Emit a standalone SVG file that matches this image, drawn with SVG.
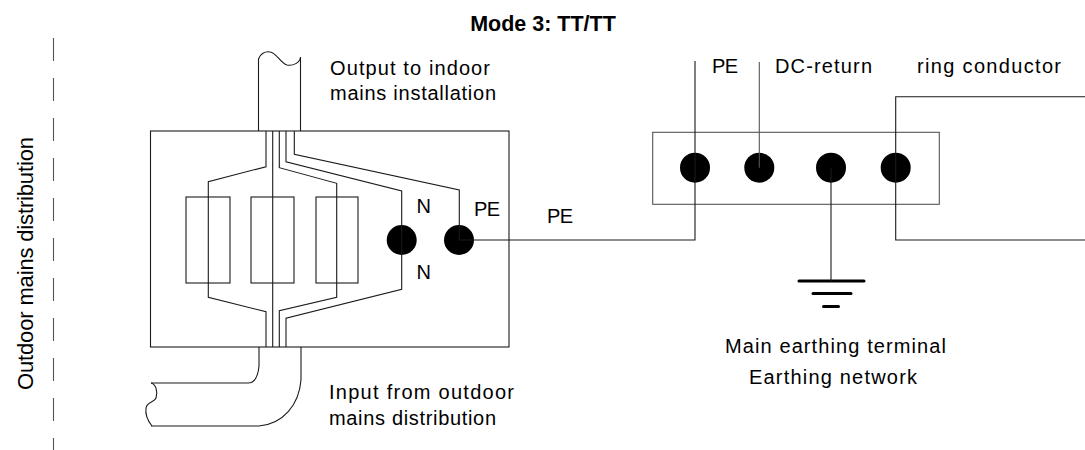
<svg xmlns="http://www.w3.org/2000/svg" width="1085" height="450" viewBox="0 0 1085 450">
<style>
  .ln{fill:none;stroke:#1a1a1a;stroke-width:1.1}
  .gr{fill:none;stroke:#555;stroke-width:1.1}
  .term{fill:#000;stroke:none}
  .t{font-family:"Liberation Sans",Arial,sans-serif;font-size:20px;fill:#000}
  .title{font-family:"Liberation Sans",Arial,sans-serif;font-size:21.5px;font-weight:bold;fill:#000}
  .earth{stroke:#000;stroke-width:3;stroke-linecap:round}
</style>
<rect width="1085" height="450" fill="#fff"/>

<g id="title">
  <text class="title" x="543" y="30.5" text-anchor="middle">Mode 3: TT/TT</text>
</g>

<g id="outdoor-boundary">
  <line class="gr" x1="53.5" y1="38" x2="53.5" y2="450" stroke-dasharray="23 17"/>
  <text class="t" style="font-size:22px" transform="translate(33,263.5) rotate(-90)" text-anchor="middle" textLength="253">Outdoor mains distribution</text>
</g>

<g id="cable-out">
  <path class="ln" d="M258.5,131 L258.5,59 C260,54 265,51 270,52 C277,53 280,63 287,65 C293,66 300,63 300.5,57 L300.5,131"/>
</g>

<g id="cable-in">
  <path class="ln" d="M259,347 L259,366 C258,377 254,383 248,383 L151,383"/>
  <path class="ln" d="M301,347 L301,380 C299,405 283,424 259,426 L151,426"/>
  <path class="ln" d="M151,383 C156,384 158,392 156,398 C155,402 147,402 146,408 C145,415 148,421 152,426"/>
</g>

<g id="distribution-box">
  <rect class="ln" x="150.5" y="131" width="358.5" height="216"/>
  <g id="fuses">
    <rect class="ln" x="186" y="197" width="44" height="86"/>
    <rect class="ln" x="251" y="197" width="43" height="86"/>
    <rect class="ln" x="316" y="197" width="42" height="86"/>
  </g>
  <circle id="term-N" class="term" cx="401.7" cy="240" r="15"/>
  <circle id="term-PE" class="term" cx="459" cy="240" r="15"/>
</g>

<g id="terminal-block">
  <rect class="gr" x="652.7" y="132.3" width="286.6" height="72"/>
  <circle id="mt-PE" class="term" cx="695" cy="167.7" r="15"/>
  <circle id="mt-DC" class="term" cx="759.3" cy="167.7" r="15"/>
  <circle id="mt-E" class="term" cx="831" cy="167.7" r="15"/>
  <circle id="mt-RING" class="term" cx="895.7" cy="167.7" r="15"/>
</g>

<g id="earth">
  <line class="earth" x1="799" y1="281" x2="864" y2="281"/>
  <line class="earth" x1="813" y1="293.5" x2="851" y2="293.5"/>
  <line class="earth" x1="823.5" y1="306.5" x2="838.5" y2="306.5"/>
</g>

<g id="connectors">
  <path class="ln" d="M266,131 L266,166.7 L208.3,181.7 L208.3,297.3 L266,311.7 L266,347"/>
  <path class="ln" d="M272.7,131 L272.7,347"/>
  <path class="ln" d="M279.3,131 L279.3,167.7 L336.7,183.3 L336.7,297.3 L279.3,310.7 L279.3,347"/>
  <path class="ln" d="M286,131 L286,161.7 L401.7,191 L401.7,240 L401.7,289.3 L286,318.3 L286,347"/>
  <path class="ln" d="M294.3,131 L294.3,154.3 L459.3,190 L459.3,240"/>
  <path class="ln" d="M459,240 L695,240 L695,61"/>
  <path class="gr" d="M759.3,62 L759.3,167.7"/>
  <path class="ln" d="M831,167.7 L831,281"/>
  <path class="ln" d="M1085,96.7 L895.7,96.7 L895.7,240 L1085,240"/>
</g>

<g id="labels">
  <text class="t" x="330" y="75" textLength="160">Output to indoor</text>
  <text class="t" x="330" y="100" textLength="166">mains installation</text>
  <text class="t" x="329" y="399" textLength="185">Input from outdoor</text>
  <text class="t" x="329" y="425" textLength="167">mains distribution</text>
  <text class="t" x="416.5" y="213">N</text>
  <text class="t" x="416.5" y="279">N</text>
  <text class="t" x="474" y="216" textLength="26">PE</text>
  <text class="t" x="547" y="223" textLength="26">PE</text>
  <text class="t" x="712" y="73" textLength="26">PE</text>
  <text class="t" x="775" y="73" textLength="97">DC-return</text>
  <text class="t" x="917" y="73" textLength="144">ring conductor</text>
  <text class="t" x="725" y="353" textLength="221">Main earthing terminal</text>
  <text class="t" x="749" y="384" textLength="168">Earthing network</text>
</g>
</svg>
